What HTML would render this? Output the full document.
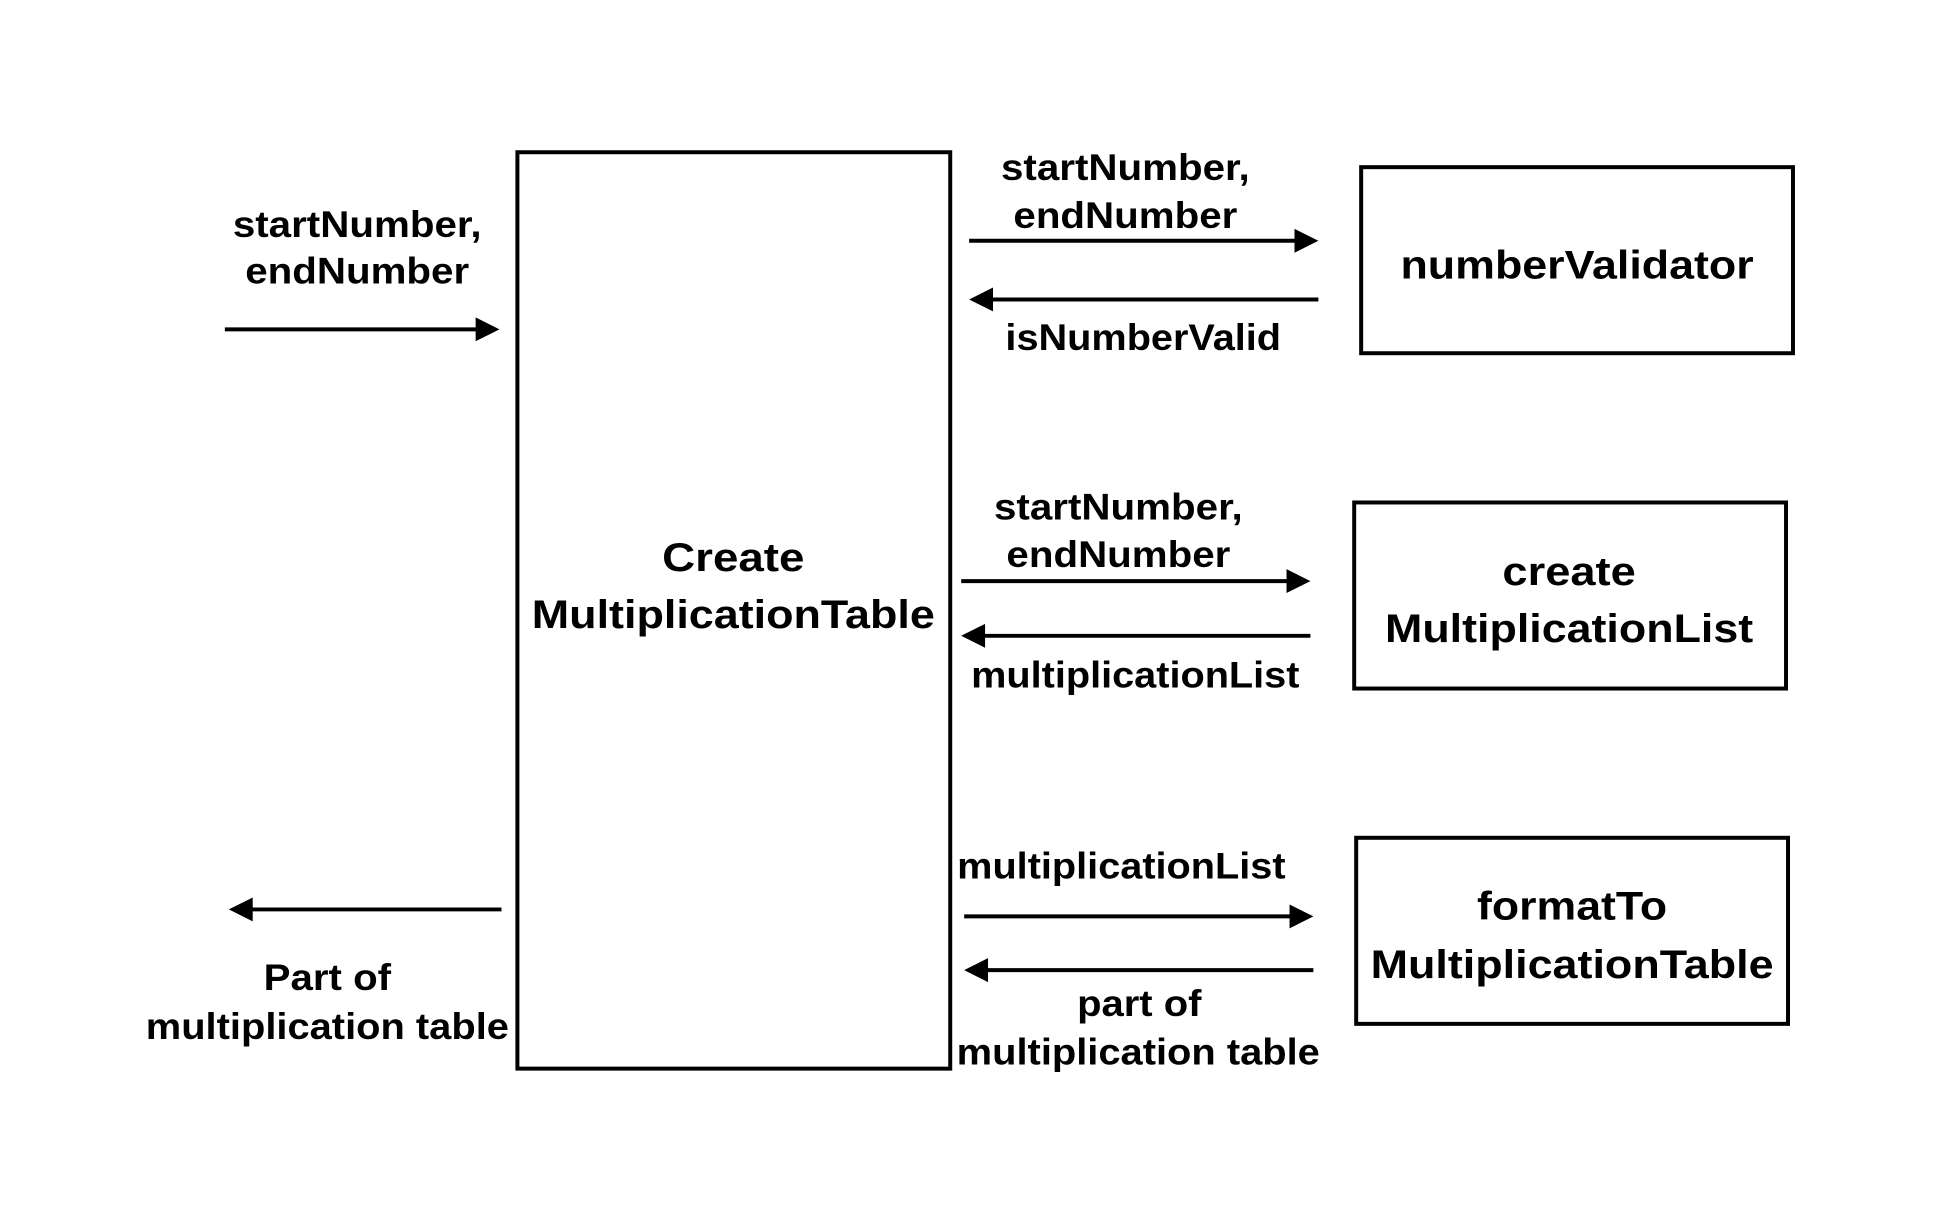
<!DOCTYPE html>
<html><head><meta charset="utf-8"><style>html,body{margin:0;padding:0;background:#fff}svg{display:block}</style></head>
<body>
<svg width="1950" height="1206" viewBox="0 0 1950 1206" xmlns="http://www.w3.org/2000/svg" font-family="Liberation Sans, Arial, sans-serif" font-weight="bold" text-anchor="middle" fill="#000">
<g transform="scale(0.995)">
<g fill="none" stroke="#000" stroke-width="4">
<rect x="520" y="153" width="435" height="921"/>
<rect x="1368" y="168" width="434" height="187"/>
<rect x="1361" y="505" width="434" height="187"/>
<rect x="1363" y="842" width="434" height="187"/>
</g>
<g stroke="#000" stroke-width="4">
<line x1="226" y1="331" x2="482" y2="331"/>
<line x1="504" y1="914" x2="250" y2="914"/>
<line x1="974" y1="242" x2="1305" y2="242"/>
<line x1="1325" y1="301" x2="994" y2="301"/>
<line x1="966" y1="584" x2="1297" y2="584"/>
<line x1="1317" y1="639" x2="986" y2="639"/>
<line x1="969" y1="921" x2="1300" y2="921"/>
<line x1="1320" y1="975" x2="989" y2="975"/>
</g>
<g>
<polygon points="502,331 478,319 478,343"/>
<polygon points="230,914 254,902 254,926"/>
<polygon points="1325,242 1301,230 1301,254"/>
<polygon points="974,301 998,289 998,313"/>
<polygon points="1317,584 1293,572 1293,596"/>
<polygon points="966,639 990,627 990,651"/>
<polygon points="1320,921 1296,909 1296,933"/>
<polygon points="969,975 993,963 993,987"/>
</g>
<g font-size="40">
<text x="737" y="574" textLength="143" lengthAdjust="spacingAndGlyphs">Create</text>
<text x="737" y="631" textLength="405" lengthAdjust="spacingAndGlyphs">MultiplicationTable</text>
<text x="1585" y="280" textLength="355" lengthAdjust="spacingAndGlyphs">numberValidator</text>
<text x="1577" y="588" textLength="134" lengthAdjust="spacingAndGlyphs">create</text>
<text x="1577" y="645" textLength="370" lengthAdjust="spacingAndGlyphs">MultiplicationList</text>
<text x="1580" y="924" textLength="191" lengthAdjust="spacingAndGlyphs">formatTo</text>
<text x="1580" y="983" textLength="405" lengthAdjust="spacingAndGlyphs">MultiplicationTable</text>
</g>
<g font-size="37">
<text x="359" y="238" textLength="250" lengthAdjust="spacingAndGlyphs">startNumber,</text>
<text x="359" y="285" textLength="225" lengthAdjust="spacingAndGlyphs">endNumber</text>
<text x="329" y="995" textLength="128" lengthAdjust="spacingAndGlyphs">Part of</text>
<text x="329" y="1044" textLength="365" lengthAdjust="spacingAndGlyphs">multiplication table</text>
<text x="1131" y="181" textLength="250" lengthAdjust="spacingAndGlyphs">startNumber,</text>
<text x="1131" y="229" textLength="225" lengthAdjust="spacingAndGlyphs">endNumber</text>
<text x="1149" y="352" textLength="277" lengthAdjust="spacingAndGlyphs">isNumberValid</text>
<text x="1124" y="522" textLength="250" lengthAdjust="spacingAndGlyphs">startNumber,</text>
<text x="1124" y="570" textLength="225" lengthAdjust="spacingAndGlyphs">endNumber</text>
<text x="1141" y="691" textLength="330" lengthAdjust="spacingAndGlyphs">multiplicationList</text>
<text x="1127" y="883" textLength="330" lengthAdjust="spacingAndGlyphs">multiplicationList</text>
<text x="1145" y="1021" textLength="125" lengthAdjust="spacingAndGlyphs">part of</text>
<text x="1144" y="1070" textLength="365" lengthAdjust="spacingAndGlyphs">multiplication table</text>
</g>
</g>
</svg>
</body></html>
